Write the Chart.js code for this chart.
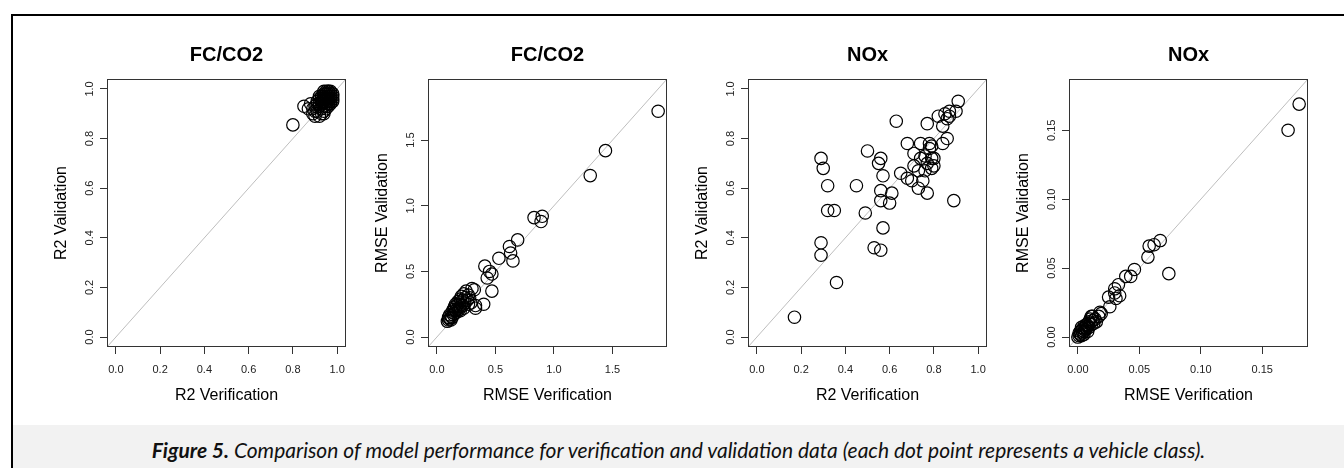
<!DOCTYPE html>
<html>
<head>
<meta charset="utf-8">
<title>Figure 5</title>
<script src="https://cdn.jsdelivr.net/npm/chart.js@4.4.1/dist/chart.umd.min.js"></script>
<style>
  html, body { margin: 0; padding: 0; background: #fff; }
  #figure { position: relative; width: 1344px; height: 468px; overflow: hidden; }
  #frameTop { position: absolute; left: 11px; top: 14px; right: 0; height: 2px; background: #000; }
  #frameLeft { position: absolute; left: 11px; top: 14px; width: 2px; bottom: 0; background: #000; }
  #caption {
    position: absolute; left: 13px; right: 0; top: 425px; bottom: 0; padding-top: 5px; box-sizing: border-box;
    background: #f2f2f2; display: flex; align-items: center; justify-content: center;
    font-family: Lato, 'Open Sans', sans-serif; font-style: italic; font-size: 21px; color: #111;
  }
  canvas { position: absolute; top: 0; }
</style>
</head>
<body>
<div id="figure">
  <div id="frameTop"></div>
  <div id="frameLeft"></div>
  <canvas id="p1"></canvas>
  <canvas id="p2"></canvas>
  <canvas id="p3"></canvas>
  <canvas id="p4"></canvas>
  <div id="caption"><span><b>Figure 5.</b> Comparison of model performance for verification and validation data (each dot point represents a vehicle class).</span></div>
</div>
<script>
// FC/CO2 - R2 (verification vs validation)
const r2FcVer = [
  0.80, 0.85, 0.87, 0.88, 0.89, 0.90, 0.90, 0.91, 0.91, 0.92,
  0.92, 0.92, 0.93, 0.93, 0.93, 0.93, 0.94, 0.94, 0.94, 0.94,
  0.94, 0.95, 0.95, 0.95, 0.95, 0.95, 0.95, 0.96, 0.96, 0.96,
  0.96, 0.96, 0.97, 0.97, 0.97, 0.97, 0.98, 0.98, 0.98, 0.93,
  0.95, 0.96, 0.94, 0.92, 0.90, 0.97, 0.95, 0.96, 0.89, 0.91,
  0.93, 0.94, 0.96, 0.97, 0.95, 0.92, 0.98, 0.94
];
const r2FcVal = [
  0.855, 0.93, 0.92, 0.94, 0.90, 0.89, 0.93, 0.91, 0.95, 0.89,
  0.93, 0.96, 0.90, 0.92, 0.95, 0.97, 0.91, 0.93, 0.95, 0.96,
  0.98, 0.92, 0.94, 0.96, 0.97, 0.98, 0.99, 0.93, 0.95, 0.96,
  0.97, 0.98, 0.94, 0.96, 0.97, 0.98, 0.95, 0.96, 0.97, 0.94,
  0.95, 0.99, 0.97, 0.94, 0.91, 0.95, 0.96, 0.94, 0.92, 0.94,
  0.96, 0.99, 0.99, 0.99, 0.93, 0.97, 0.98, 0.90
];

// FC/CO2 - RMSE
const rmseFcVer = [
  0.09, 0.10, 0.10, 0.11, 0.11, 0.12, 0.12, 0.13, 0.13, 0.14,
  0.14, 0.15, 0.15, 0.16, 0.16, 0.17, 0.17, 0.18, 0.18, 0.19,
  0.19, 0.20, 0.20, 0.21, 0.21, 0.22, 0.22, 0.23, 0.24, 0.24,
  0.25, 0.26, 0.27, 0.28, 0.29, 0.30, 0.33, 0.23, 0.27, 0.20,
  0.32, 0.33, 0.40, 0.41, 0.43, 0.45, 0.47, 0.47, 0.53, 0.62,
  0.63, 0.65, 0.69, 0.83, 0.89, 0.90, 1.31, 1.44, 1.89
];
const rmseFcVal = [
  0.12, 0.13, 0.15, 0.14, 0.17, 0.13, 0.16, 0.15, 0.19, 0.17,
  0.21, 0.18, 0.23, 0.20, 0.25, 0.19, 0.24, 0.22, 0.27, 0.21,
  0.26, 0.23, 0.29, 0.25, 0.31, 0.24, 0.28, 0.33, 0.26, 0.30,
  0.35, 0.28, 0.32, 0.30, 0.26, 0.37, 0.22, 0.22, 0.25, 0.20,
  0.36, 0.24, 0.25, 0.54, 0.45, 0.50, 0.48, 0.35, 0.60, 0.69,
  0.64, 0.58, 0.74, 0.91, 0.88, 0.92, 1.23, 1.42, 1.72
];

// NOx - R2
const r2NoxVer = [
  0.17, 0.36, 0.29, 0.29, 0.29, 0.30, 0.32, 0.32, 0.35, 0.45,
  0.49, 0.50, 0.55, 0.56, 0.57, 0.56, 0.56, 0.61, 0.60, 0.57,
  0.53, 0.56, 0.63, 0.65, 0.68, 0.68, 0.70, 0.71, 0.73, 0.74,
  0.74, 0.75, 0.76, 0.77, 0.77, 0.78, 0.79, 0.79, 0.80, 0.79,
  0.73, 0.71, 0.77, 0.82, 0.84, 0.84, 0.86, 0.85, 0.87, 0.86,
  0.87, 0.91, 0.90, 0.89, 0.76, 0.78, 0.80
];
const r2NoxVal = [
  0.08, 0.22, 0.38, 0.33, 0.72, 0.68, 0.61, 0.51, 0.51, 0.61,
  0.50, 0.75, 0.70, 0.72, 0.65, 0.59, 0.55, 0.58, 0.54, 0.44,
  0.36, 0.35, 0.87, 0.66, 0.78, 0.64, 0.63, 0.69, 0.60, 0.72,
  0.78, 0.63, 0.73, 0.86, 0.58, 0.78, 0.68, 0.72, 0.69, 0.77,
  0.67, 0.74, 0.70, 0.89, 0.78, 0.85, 0.80, 0.90, 0.89, 0.88,
  0.91, 0.95, 0.91, 0.55, 0.67, 0.76, 0.72
];

// NOx - RMSE
const rmseNoxVer = [
  0.180, 0.171, 0.074, 0.067, 0.062, 0.058, 0.057, 0.046, 0.043, 0.039,
  0.033, 0.030, 0.034, 0.030, 0.025, 0.026, 0.031, 0.018, 0.017, 0.011,
  0.000, 0.001, 0.001, 0.002, 0.002, 0.003, 0.003, 0.004, 0.004, 0.005,
  0.005, 0.006, 0.006, 0.007, 0.007, 0.008, 0.008, 0.009, 0.010, 0.010,
  0.011, 0.012, 0.013, 0.014, 0.015, 0.003, 0.005, 0.009, 0.012, 0.019
];
const rmseNoxVal = [
  0.169, 0.150, 0.046, 0.070, 0.067, 0.066, 0.058, 0.049, 0.044, 0.044,
  0.038, 0.035, 0.030, 0.032, 0.029, 0.022, 0.028, 0.018, 0.015, 0.015,
  0.000, 0.001, 0.003, 0.002, 0.004, 0.001, 0.005, 0.003, 0.006, 0.004,
  0.008, 0.005, 0.007, 0.006, 0.009, 0.004, 0.008, 0.007, 0.010, 0.013,
  0.009, 0.012, 0.010, 0.013, 0.011, 0.007, 0.002, 0.011, 0.015, 0.017
];

// tick labels and axis limits (same for x and y in each panel)
const ticksR2 = [0, 0.2, 0.4, 0.6, 0.8, 1.0];
const ticksRmseFc = [0, 0.5, 1.0, 1.5];
const ticksRmseNox = [0, 0.05, 0.10, 0.15];
const limR2 = [0, 1];
const limRmseFc = [0, 1.89];
const limRmseNox = [0, 0.18];

Chart.defaults.font.family = "'Liberation Sans', Arial, Helvetica, sans-serif";

const panels = [
  { id: 'p1', left: 107, title: 'FC/CO2', xt: 'R2 Verification', yt: 'R2 Validation', xs: r2FcVer, ys: r2FcVal, ticks: ticksR2, lim: limR2, dec: 1 },
  { id: 'p2', left: 428, title: 'FC/CO2', xt: 'RMSE Verification', yt: 'RMSE Validation', xs: rmseFcVer, ys: rmseFcVal, ticks: ticksRmseFc, lim: limRmseFc, dec: 1 },
  { id: 'p3', left: 748, title: 'NOx', xt: 'R2 Verification', yt: 'R2 Validation', xs: r2NoxVer, ys: r2NoxVal, ticks: ticksR2, lim: limR2, dec: 1 },
  { id: 'p4', left: 1069, title: 'NOx', xt: 'RMSE Verification', yt: 'RMSE Validation', xs: rmseNoxVer, ys: rmseNoxVal, ticks: ticksRmseNox, lim: limRmseNox, dec: 2 }
];

const plotW = 239, margin = 95, canvasH = 425;

// box around the plot region, like R's box()
const boxPlugin = {
  id: 'box',
  afterDatasetsDraw(chart) {
    const { ctx, chartArea: a } = chart;
    ctx.save();
    ctx.strokeStyle = '#333';
    ctx.lineWidth = 1;
    ctx.strokeRect(Math.round(a.left) + 0.5, Math.round(a.top) + 0.5, Math.round(a.right - a.left) - 1, Math.round(a.bottom - a.top) - 1);
    ctx.restore();
  }
};

panels.forEach(p => {
  const cv = document.getElementById(p.id);
  cv.width = plotW + 2 * margin;
  cv.height = canvasH;
  cv.style.left = (p.left - margin) + 'px';

  // R-style 4% axis extension
  const span = p.lim[1] - p.lim[0];
  const lo = p.lim[0] - 0.04 * span, hi = p.lim[1] + 0.04 * span;
  const pts = p.xs.map((x, i) => ({ x: x, y: p.ys[i] }));
  const tickFont = { size: 11 };
  const labelPad = p.dec === 2 ? -0.7 : 2.3;

  const axis = (isX) => ({
    type: 'linear',
    min: lo,
    max: hi,
    position: isX ? 'bottom' : 'left',
    afterFit: s => { if (isX) s.height = 58; else s.width = margin; },
    afterBuildTicks: s => { s.ticks = p.ticks.map(v => ({ value: v })); },
    ticks: {
      callback: v => Number(v).toFixed(p.dec),
      font: tickFont,
      color: '#222',
      autoSkip: false,
      padding: isX ? 9.4 : labelPad,
      minRotation: isX ? 0 : 90,
      maxRotation: isX ? 0 : 90,
      crossAlign: isX ? 'near' : 'center'
    },
    grid: { drawOnChartArea: false, tickLength: 7, color: '#333', tickColor: '#333' },
    border: { display: false },
    title: {
      display: true,
      text: isX ? p.xt : p.yt,
      color: '#000',
      font: { size: 16 },
      padding: isX ? { top: 0, bottom: 0 } : { top: 40.4, bottom: 0 }
    }
  });

  new Chart(cv.getContext('2d'), {
    type: 'scatter',
    data: {
      datasets: [
        {
          data: pts,
          pointStyle: 'circle',
          pointRadius: 6.2,
          pointBorderWidth: 1.2,
          borderColor: '#000',
          backgroundColor: 'rgba(0,0,0,0)',
          order: 1
        },
        {
          data: [{ x: lo, y: lo }, { x: hi, y: hi }],
          showLine: true,
          pointRadius: 0,
          borderColor: '#bebebe',
          borderWidth: 1,
          order: 2
        }
      ]
    },
    options: {
      responsive: false,
      animation: false,
      events: [],
      layout: { padding: { left: 0, right: margin, top: 0, bottom: 20 } },
      plugins: {
        legend: { display: false },
        tooltip: { enabled: false },
        title: {
          display: true,
          text: p.title,
          fullSize: false,
          color: '#000',
          font: { size: 20, weight: 'bold' },
          padding: { top: 43, bottom: 12 }
        }
      },
      scales: { x: axis(true), y: axis(false) }
    },
    plugins: [boxPlugin]
  });
});
</script>
</body>
</html>
